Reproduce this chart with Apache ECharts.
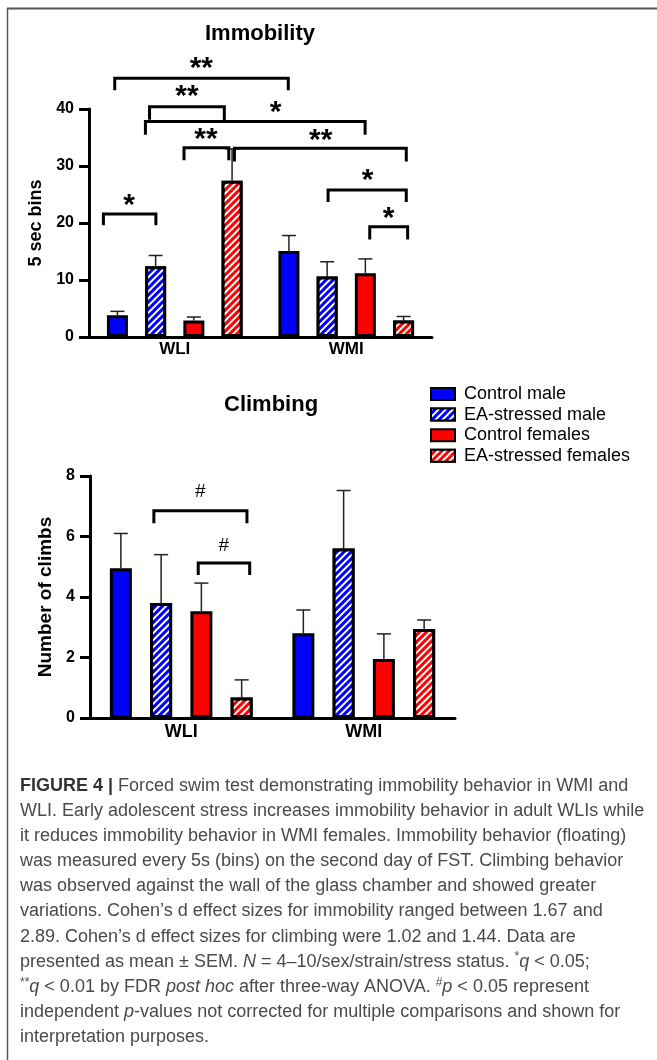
<!DOCTYPE html>
<html>
<head>
<meta charset="utf-8">
<title>Forced swim test</title>
<script src="https://cdn.jsdelivr.net/npm/echarts/dist/echarts.min.js"></script>
<style>
  html, body { margin: 0; padding: 0; background: #fff; }
  #chart { width: 657px; height: 1060px; }
</style>
</head>
<body>
<div id="chart"></div>
<script>
  // categories and groups
  var strains = ['WLI', 'WMI'];
  var groups = ['Control male', 'EA-stressed male', 'Control females', 'EA-stressed females'];

  // immobility, 5 sec bins: mean and SEM, [group][strain]
  var immobilityMean = [[3.8, 15.1], [12.4, 10.6], [2.9, 11.2], [27.4, 2.9]];
  var immobilitySem = [[0.7, 2.7], [1.9, 2.6], [0.6, 2.5], [5.6, 0.7]];
  var immobilityTicks = [0, 10, 20, 30, 40];

  // climbing, number of climbs
  var climbMean = [[4.95, 2.8], [3.8, 5.6], [3.53, 1.95], [0.68, 2.94]];
  var climbSem = [[1.15, 0.77], [1.6, 1.92], [0.93, 0.83], [0.58, 0.3]];
  var climbTicks = [0, 2, 4, 6, 8];

  // significance brackets: [x from, x to, y, left leg end, right leg end] (x: 0..2 across the two strains)
  var immBrackets = [
    [0.150, 1.162, 45.4, 43.3, 43.3],
    [0.353, 0.789, 40.4, 38.1, 37.8],
    [0.329, 1.610, 37.8, 35.5, 35.5],
    [0.554, 0.815, 33.2, 31.0, 31.0],
    [0.848, 1.850, 33.1, 30.8, 30.8],
    [1.394, 1.850, 25.8, 23.7, 23.7],
    [1.637, 1.858, 19.35, 17.1, 17.1],
    [0.084, 0.390, 21.6, 19.6, 19.6]
  ];
  var immMarks = ['**', '**', '*', '**', '**', '*', '*', '*'];
  var immMarkX = [0.655, 0.571, 1.088, 0.682, 1.351, 1.624, 1.747, 0.234];
  var immMarkY = [48.2, 43.3, 40.5, 35.8, 35.7, 28.6, 22.0, 24.3];

  var climbBrackets = [
    [0.350, 0.860, 6.85, 6.44, 6.44],
    [0.593, 0.875, 5.12, 4.73, 4.73]
  ];
  var climbMarks = ['#', '#'];
  var climbMarkX = [0.604, 0.733];
  var climbMarkY = [7.48, 5.7];

  var FONT = '"Liberation Sans", Arial, sans-serif';
  var colors = ['#0000ff', '#0000ff', '#ff0000', '#ff0000'];
  var hatch = {
    symbol: 'rect', symbolSize: 1, color: '#ffffff',
    dashArrayX: [1, 0], dashArrayY: [2, 3], rotation: -Math.PI / 4
  };

  function barStyle(k) {
    var s = { color: colors[k], borderColor: '#000', borderWidth: 3 };
    if (k % 2 == 1) s.decal = hatch;
    return s;
  }

  function errorBars(mean, sem) {
    var rows = [];
    groups.forEach(function (g, k) {
      strains.forEach(function (s, i) {
        rows.push([i, mean[k][i], sem[k][i], k]);
      });
    });
    return rows;
  }

  function errorItem(bw, gap) {
    return function (params, api) {
      var base = api.coord([api.value(0), api.value(1)]);
      var top = api.coord([api.value(0), api.value(1) + api.value(2)]);
      var x = base[0] + (api.value(3) - 1.5) * bw * (1 + gap);
      var st = { stroke: '#222', lineWidth: 1.5 };
      return {
        type: 'group',
        children: [
          { type: 'line', shape: { x1: x, y1: base[1], x2: x, y2: top[1] }, style: st },
          { type: 'line', shape: { x1: x - 7, y1: top[1], x2: x + 7, y2: top[1] }, style: st }
        ]
      };
    };
  }

  function bracketItem(params, api) {
    var a = api.coord([api.value(0), api.value(2)]);
    var b = api.coord([api.value(1), api.value(2)]);
    var l = api.coord([api.value(0), api.value(3)]);
    var r = api.coord([api.value(1), api.value(4)]);
    return {
      type: 'polyline',
      shape: { points: [l, a, b, r] },
      style: { stroke: '#000', lineWidth: 3, fill: null, lineJoin: 'miter' }
    };
  }

  function markItem(marks, size, weight, lift) {
    return function (params, api) {
      var p = api.coord([api.value(0), api.value(1)]);
      return {
        type: 'text',
        x: p[0], y: p[1] + lift * size,
        style: {
          text: marks[params.dataIndex], fill: '#000',
          font: weight + ' ' + size + 'px ' + FONT,
          textAlign: 'center', textVerticalAlign: 'middle'
        }
      };
    };
  }

  function zip(xs, ys) {
    return xs.map(function (x, i) { return [x, ys[i]]; });
  }

  function yAxisOf(grid, ticks, name, gap, nameSize) {
    return {
      gridIndex: grid, type: 'value',
      min: ticks[0], max: ticks[ticks.length - 1], interval: ticks[1] - ticks[0],
      axisLine: { show: true, lineStyle: { color: '#000', width: 3 } },
      axisTick: { show: true, length: 10, lineStyle: { color: '#000', width: 3 } },
      axisLabel: { color: '#000', fontWeight: 'bold', fontSize: 16, margin: 15, fontFamily: FONT },
      splitLine: { show: false },
      name: name, nameLocation: 'middle', nameGap: gap,
      nameTextStyle: { color: '#000', fontWeight: 'bold', fontSize: nameSize, fontFamily: FONT }
    };
  }

  function xAxisOf(grid, size, margin) {
    return {
      gridIndex: grid, type: 'category', data: strains,
      axisLine: { lineStyle: { color: '#000', width: 3 } },
      axisTick: { show: false },
      axisLabel: { color: '#000', fontWeight: 'bold', fontSize: size, margin: margin, fontFamily: FONT }
    };
  }

  var series = [];
  groups.forEach(function (g, k) {
    series.push({
      name: g, type: 'bar', xAxisIndex: 0, yAxisIndex: 0, z: 2,
      barWidth: 21, barGap: '82%',
      data: immobilityMean[k], itemStyle: barStyle(k)
    });
  });
  groups.forEach(function (g, k) {
    series.push({
      name: g, type: 'bar', xAxisIndex: 2, yAxisIndex: 1, z: 2,
      barWidth: 22, barGap: '83%',
      data: climbMean[k], itemStyle: barStyle(k)
    });
  });
  series.push(
    { type: 'custom', name: 'imm-err', xAxisIndex: 0, yAxisIndex: 0, z: 1,
      renderItem: errorItem(21, 0.82), data: errorBars(immobilityMean, immobilitySem) },
    { type: 'custom', name: 'climb-err', xAxisIndex: 2, yAxisIndex: 1, z: 1,
      renderItem: errorItem(22, 0.83), data: errorBars(climbMean, climbSem) },
    { type: 'custom', name: 'imm-br', xAxisIndex: 1, yAxisIndex: 0, z: 5,
      encode: { x: [0, 1], y: [2, 3, 4] }, renderItem: bracketItem, data: immBrackets },
    { type: 'custom', name: 'climb-br', xAxisIndex: 3, yAxisIndex: 1, z: 5,
      encode: { x: [0, 1], y: [2, 3, 4] }, renderItem: bracketItem, data: climbBrackets },
    { type: 'custom', name: 'imm-mark', xAxisIndex: 1, yAxisIndex: 0, z: 5,
      renderItem: markItem(immMarks, 30, 'bold', 0.23), data: zip(immMarkX, immMarkY) },
    { type: 'custom', name: 'climb-mark', xAxisIndex: 3, yAxisIndex: 1, z: 5,
      renderItem: markItem(climbMarks, 19, 'normal', 0), data: zip(climbMarkX, climbMarkY) }
  );

  var caption =
    '{b|FIGURE 4 |} Forced swim test demonstrating immobility behavior in WMI and\n' +
    'WLI. Early adolescent stress increases immobility behavior in adult WLIs while\n' +
    'it reduces immobility behavior in WMI females. Immobility behavior (floating)\n' +
    'was measured every 5s (bins) on the second day of FST. Climbing behavior\n' +
    'was observed against the wall of the glass chamber and showed greater\n' +
    'variations. Cohen\u2019s d effect sizes for immobility ranged between 1.67 and\n' +
    '2.89. Cohen\u2019s d effect sizes for climbing were 1.02 and 1.44. Data are\n' +
    'presented as mean \u00b1 SEM. {i|N} = 4\u201310/sex/strain/stress status. {s|*}{i|q} < 0.05;\n' +
    '{s|**}{i|q} < 0.01 by FDR {i|post hoc} after three-way ANOVA. {s|#}{i|p} < 0.05 represent\n' +
    'independent {i|p}-values not corrected for multiple comparisons and shown for\n' +
    'interpretation purposes.';

  var LH = 25.1;
  var CAP = 18;
  var chart = echarts.init(document.getElementById('chart'), null, { renderer: 'canvas' });
  chart.setOption({
    animation: false,
    backgroundColor: '#fff',
    textStyle: { fontFamily: FONT },
    title: [
      { text: 'Immobility', left: 205, top: 23, padding: 0,
        textStyle: { fontSize: 22, fontWeight: 'bold', color: '#000', fontFamily: FONT } },
      { text: 'Climbing', left: 224, top: 394, padding: 0,
        textStyle: { fontSize: 22, fontWeight: 'bold', color: '#000', fontFamily: FONT } }
    ],
    legend: {
      data: groups, orient: 'vertical', left: 430, top: 385, padding: 0,
      icon: 'rect', itemWidth: 24, itemHeight: 12, itemGap: 2.6,
      selectedMode: false,
      textStyle: { fontSize: 18, color: '#000', fontFamily: FONT, padding: [0, 0, 0, 4] }
    },
    grid: [
      { left: 89, top: 109, width: 343, height: 228 },
      { left: 90, top: 476, width: 365, height: 242 }
    ],
    xAxis: [
      xAxisOf(0, 17, 4),
      { gridIndex: 0, type: 'value', min: 0, max: 2, show: false },
      xAxisOf(1, 18, 5),
      { gridIndex: 1, type: 'value', min: 0, max: 2, show: false }
    ],
    yAxis: [
      yAxisOf(0, immobilityTicks, '5 sec bins', 37, 18),
      yAxisOf(1, climbTicks, 'Number of climbs', 35, 19)
    ],
    series: series,
    graphic: [
      { type: 'line', shape: { x1: 7, y1: 8.5, x2: 657, y2: 8.5 },
        style: { stroke: '#555', lineWidth: 2 } },
      { type: 'line', shape: { x1: 7.5, y1: 8, x2: 7.5, y2: 1060 },
        style: { stroke: '#555', lineWidth: 1.5 } },
      { type: 'text', left: 20, top: 786 - LH / 2,
        style: {
          text: caption, fill: '#4a4a4a', font: CAP + 'px ' + FONT, lineHeight: LH,
          rich: {
            b: { fontWeight: 'bold', fill: '#333', fontSize: CAP, lineHeight: LH },
            i: { fontStyle: 'italic', fontSize: CAP, lineHeight: LH },
            s: { fontSize: 12, lineHeight: LH, verticalAlign: 'top', padding: [2, 0, 0, 0] }
          }
        } }
    ]
  });
</script>
</body>
</html>
